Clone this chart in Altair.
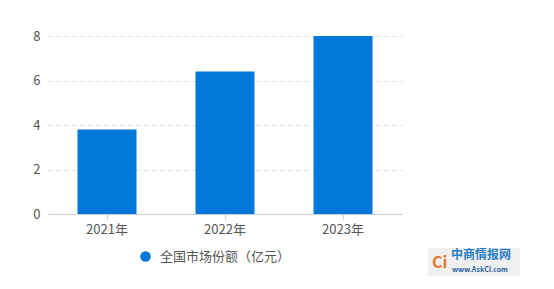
import altair as alt
import pandas as pd

years = ["2021年", "2022年", "2023年"]
values = [3.8, 6.4, 8.0]
series = "全国市场份额（亿元）"

df = pd.DataFrame({"year": years, "value": values, "series": [series] * 3})

FONT = "Noto Sans CJK SC"

bars = alt.Chart(df).mark_bar(color="#0177d9").encode(
    x=alt.X("year:N", sort=years, title=None,
            scale=alt.Scale(paddingInner=0.5, paddingOuter=0.25),
            axis=alt.Axis(labelAngle=0, labelColor="#555", labelFontSize=13, labelFont=FONT,
                          domainColor="#cccccc", tickColor="#cccccc", tickSize=5,
                          labelPadding=4, grid=False)),
    y=alt.Y("value:Q", title=None,
            scale=alt.Scale(domain=[0, 8]),
            axis=alt.Axis(values=[0, 2, 4, 6, 8], labelColor="#555", labelFontSize=13,
                          labelFont=FONT, domain=False, ticks=False, labelPadding=8,
                          gridColor="#dddddd", gridDash=[4, 4])),
    color=alt.Color("series:N", scale=alt.Scale(range=["#0177d9"]),
                    legend=alt.Legend(title=None, orient="none", legendX=91, legendY=214,
                                      symbolType="circle", symbolSize=110, symbolOffset=0,
                                      labelOffset=8,
                                      labelFontSize=13, labelColor="#555", labelFont=FONT,
                                      symbolStrokeWidth=0)),
)

wm_bg = alt.Chart(df).mark_rect(color="#f0f0f0").encode(
    x=alt.value(380), x2=alt.value(472), y=alt.value(212), y2=alt.value(240)
)
wm1 = alt.Chart(pd.DataFrame({"t": ["中商情报网"]})).mark_text(
    color="#2a7fc4", fontSize=12, font=FONT, fontWeight="bold", align="left"
).encode(text="t:N", x=alt.value(403), y=alt.value(219))
wm2 = alt.Chart(pd.DataFrame({"t": ["www.AskCI.com"]})).mark_text(
    color="#2a5fa0", fontSize=7, font=FONT, fontWeight="bold", align="left"
).encode(text="t:N", x=alt.value(404), y=alt.value(234))
wm3 = alt.Chart(pd.DataFrame({"t": ["Ci"]})).mark_text(
    color="#e8732a", fontSize=16, font=FONT, fontWeight="bold", align="left"
).encode(text="t:N", x=alt.value(384), y=alt.value(227))

chart = alt.layer(bars, wm_bg, wm1, wm2, wm3).properties(
    width=354, height=178,
    autosize=alt.AutoSizeParams(type="none"),
    padding={"left": 48, "top": 36, "right": 152, "bottom": 75},
).configure_view(stroke=None)

chart.save("out.html", embed_options={"renderer": "svg", "actions": False})
